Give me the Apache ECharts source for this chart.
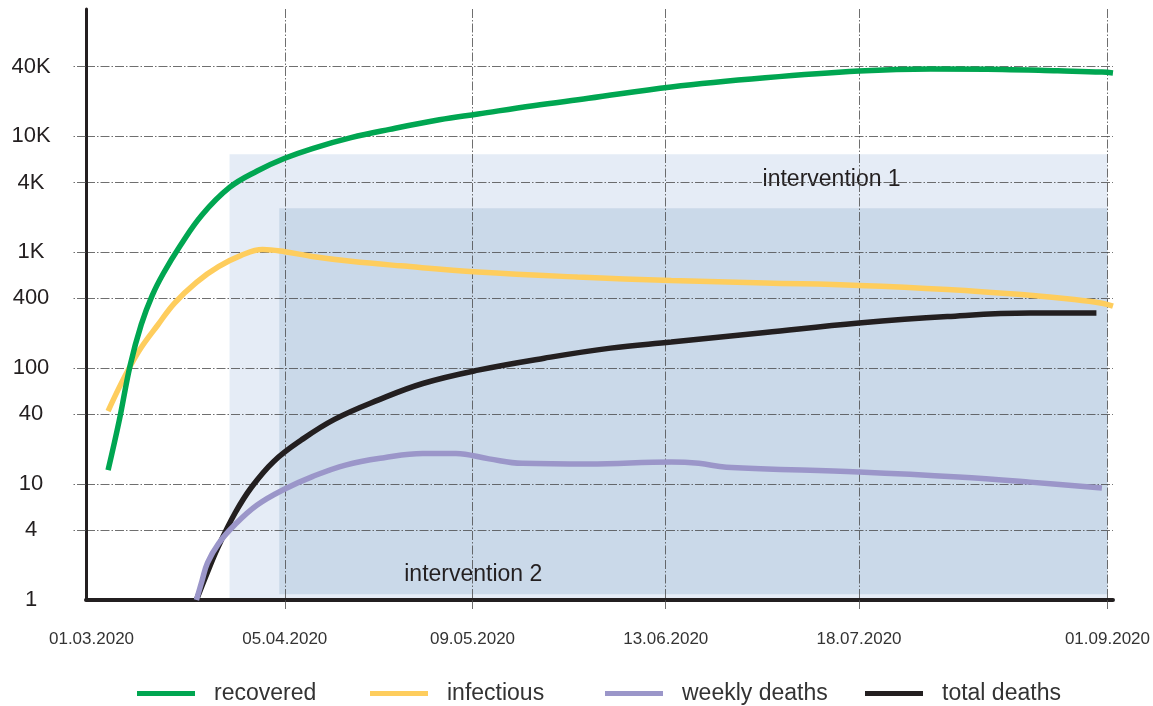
<!DOCTYPE html>
<html><head><meta charset="utf-8">
<script src="https://cdn.jsdelivr.net/npm/echarts@6/dist/echarts.min.js"></script>
<style>html,body{margin:0;padding:0;background:#fff}#c{width:1153px;height:706px}</style>
</head><body><div id="c"></div>
<script>
// ---- tick labels ----
const xLabelDates = ['2020-03-01','2020-04-05','2020-05-09','2020-06-13','2020-07-18','2020-09-01'];
const xGridDates  = ['2020-04-05','2020-05-09','2020-06-13','2020-07-18','2020-09-01'];
const yTickValues = [1,4,10,40,100,400,1000,4000,10000,40000];
const yTickLabels = ['1','4','10','40','100','400','1K','4K','10K','40K'];

// ---- series ----
const seriesNames = ['recovered','infectious','weekly deaths','total deaths'];

const recoveredDates = ['2020-03-04','2020-03-06','2020-03-08','2020-03-10','2020-03-12','2020-03-14','2020-03-17','2020-03-21','2020-03-26','2020-03-31','2020-04-05','2020-04-10','2020-04-17','2020-04-24','2020-05-03','2020-05-10','2020-05-20','2020-05-30','2020-06-14','2020-07-01','2020-07-18','2020-07-31','2020-08-13','2020-08-23','2020-08-31','2020-09-02'];
const recoveredValues = [13.2,35,106,238,425,656,1129,2100,3630,5030,6470,7860,9750,11500,13900,15600,18400,21300,26700,32000,36600,38150,37850,36800,35900,35240];

const infectiousDates = ['2020-03-04','2020-03-06','2020-03-08','2020-03-10','2020-03-13','2020-03-16','2020-03-20','2020-03-24','2020-03-28','2020-04-01','2020-04-05','2020-04-10','2020-04-17','2020-04-26','2020-05-10','2020-05-28','2020-06-14','2020-07-01','2020-07-18','2020-08-03','2020-08-18','2020-08-26','2020-08-31','2020-09-02'];
const infectiousValues = [42.7,68,104,151,236,363,551,751,936,1057,1012,921,836,764,676,612,571,543,518,478,426,392,364,344];

const weeklyDeathsDates = ['2020-03-20','2020-03-21','2020-03-22','2020-03-24','2020-03-27','2020-03-31','2020-04-05','2020-04-10','2020-04-16','2020-04-23','2020-04-30','2020-05-06','2020-05-12','2020-05-18','2020-05-30','2020-06-14','2020-06-19','2020-06-24','2020-07-18','2020-08-05','2020-08-18','2020-08-31'];
const weeklyDeathsValues = [1,1.46,2.09,3.07,4.48,6.6,9.07,11.6,14.6,16.9,18.4,18.4,16.5,15.1,14.9,15.5,15.1,14.0,12.7,11.5,10.4,9.25];

const totalDeathsDates = ['2020-03-20','2020-03-22','2020-03-24','2020-03-27','2020-03-30','2020-04-03','2020-04-08','2020-04-14','2020-04-22','2020-04-30','2020-05-10','2020-05-22','2020-06-03','2020-06-14','2020-07-01','2020-07-18','2020-08-03','2020-08-18','2020-08-30'];
const totalDeathsValues = [1,1.74,2.92,5.63,9.44,15.7,24,36.2,53.3,73.8,96.2,122,149,168,203,245,279,299,299];

// ---- interventions ----
const interventionNames = ['intervention 1','intervention 2'];
const interventionStart = ['2020-03-26','2020-04-04'];
const interventionEnd   = ['2020-09-01','2020-09-01'];
const interventionLow   = [1, 1.12];
const interventionHigh  = [7000, 2400];

const FONT = '"Liberation Sans", Arial, sans-serif';
const colors = ['#00a651','#fecd5d','#9b96c9','#231f20'];
const ORIGIN = Date.UTC(2020, 2, 1);
// day index since 01.03.2020
const day = s => { const p = s.split('-').map(Number); return Math.round((Date.UTC(p[0], p[1] - 1, p[2]) - ORIGIN) / 86400000); };
const fmtDay = d => { const t = new Date(ORIGIN + Math.round(d) * 86400000); const p = n => (n < 10 ? '0' : '') + n; return p(t.getUTCDate()) + '.' + p(t.getUTCMonth() + 1) + '.' + t.getUTCFullYear(); };
const pair = (d, v) => d.map((x, i) => [day(x), v[i]]);

const chart = echarts.init(document.getElementById('c'), null, {renderer: 'canvas'});

const gridLine = {color: '#4a4a4a', width: 0.8, type: [9, 2, 1.5, 2]};

function makeSeries(i, data, z, extra) {
  return Object.assign({
    name: seriesNames[i], type: 'line', data: data, smooth: 0.4, showSymbol: false, symbol: 'none',
    z: z, lineStyle: {color: colors[i], width: 5.5, cap: 'butt'}, itemStyle: {color: colors[i]}
  }, extra || {});
}

const areaLabelPos = [[533, 14], [125, 355]];

const option = {
  animation: false,
  backgroundColor: '#fff',
  grid: {left: 86, right: 34, top: 9, bottom: 106},
  xAxis: {
    type: 'value', min: day('2020-02-29'), max: day('2020-09-02'), z: 2,
    axisLine: {show: true, onZero: false, lineStyle: {color: '#231f20', width: 4}},
    axisTick: {show: true, length: 9, customValues: xGridDates.map(day), lineStyle: gridLine},
    splitLine: {show: true, lineStyle: gridLine},
    axisLabel: {
      customValues: xLabelDates.map(day), margin: 31, fontSize: 17, color: '#333', fontFamily: FONT,
      formatter: v => fmtDay(v)
    }
  },
  yAxis: {
    type: 'log', logBase: 10, min: 1, max: 125680, z: 2,
    axisLine: {show: true, onZero: false, lineStyle: {color: '#231f20', width: 3}},
    axisTick: {show: true, length: 14, customValues: yTickValues.slice(1), lineStyle: gridLine},
    splitLine: {show: true, lineStyle: gridLine},
    axisLabel: {
      customValues: yTickValues, margin: 55, align: 'center', fontSize: 22, color: '#231f20', fontFamily: FONT,
      formatter: v => {
        let best = 0, bd = 1e9;
        yTickValues.forEach((t, i) => { const dd = Math.abs(Math.log10(t) - Math.log10(v)); if (dd < bd) { bd = dd; best = i; } });
        return yTickLabels[best];
      }
    }
  },
  legend: seriesNames.map((n, i) => ({
    data: [n], left: [132, 365, 600, 860][i], top: 677, icon: 'rect', itemWidth: 58, itemHeight: 5,
    textStyle: {fontSize: 23, color: '#333', fontFamily: FONT, padding: [0, 0, 0, 14]}
  })),
  series: [
    makeSeries(1, pair(infectiousDates, infectiousValues), 3, {
      markArea: {
        silent: true,
        data: interventionNames.map((nm, k) => [
          {name: nm, xAxis: day(interventionStart[k]), yAxis: interventionHigh[k],
           itemStyle: {color: k === 0 ? '#e5ecf6' : '#cad9e9'},
           label: {show: true, position: areaLabelPos[k], align: 'left', verticalAlign: 'top', fontSize: 23, color: '#231f20', fontFamily: FONT}},
          {xAxis: day(interventionEnd[k]), yAxis: interventionLow[k]}
        ])
      }
    }),
    makeSeries(3, pair(totalDeathsDates, totalDeathsValues), 4),
    makeSeries(2, pair(weeklyDeathsDates, weeklyDeathsValues), 5),
    makeSeries(0, pair(recoveredDates, recoveredValues), 6)
  ]
};
chart.setOption(option);
</script></body></html>
